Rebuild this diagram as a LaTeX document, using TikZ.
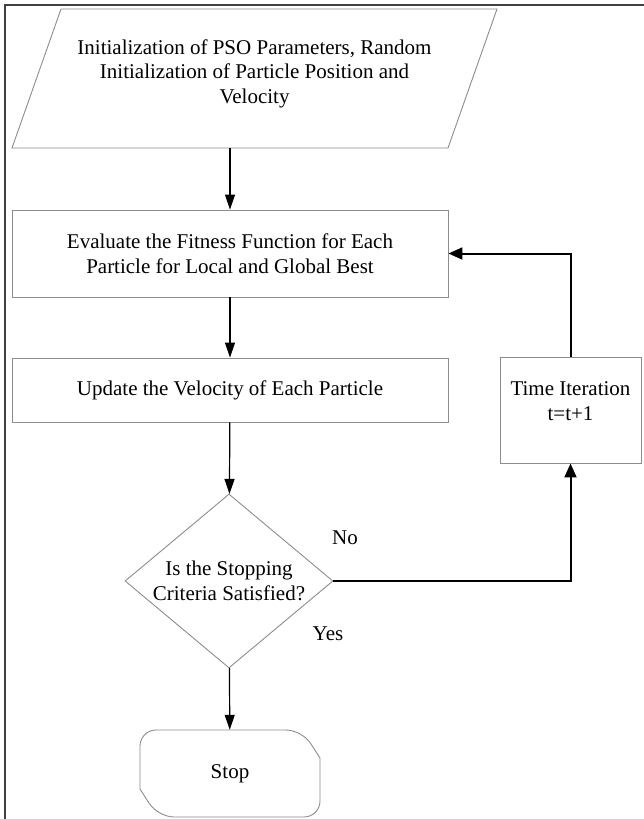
\documentclass[tikz,border=0pt]{standalone}
\usepackage{fontspec}
\setmainfont{Liberation Serif}
\usetikzlibrary{shapes, arrows.meta}

\definecolor{edgegray}{RGB}{140,140,140}
\definecolor{framegray}{RGB}{64,64,64}

\begin{document}
\begin{tikzpicture}[x=1pt, y=-1pt,
	every node/.style={font=\fontsize{21}{24.5}\selectfont, align=center},
	edge/.style={draw=edgegray, line width=0.9pt},
	block/.style={edge, rectangle, minimum width=436pt, minimum height=87pt},
	arr/.style={-{Triangle[width=10pt,length=15pt]}, line width=1.2pt},
	backarr/.style={-{Triangle[width=12pt,length=14pt]}, line width=2pt}]
	\useasboundingbox (0,0) rectangle (644,819);
	\draw[framegray, line width=1.5pt] (644,5) -- (5,5) -- (5,819);

	\draw[edge] (61,9) -- (497,9) -- (448,148) -- (12,148) -- cycle;
	\node[minimum width=400pt, minimum height=139pt, text depth=14pt] (init) at (254.5,78.5) {Initialization of PSO Parameters, Random\\Initialization of Particle Position and\\Velocity};

	\node[block] (evalbox) at (230,253.5) {Evaluate the Fitness Function for Each\\Particle for Local and Global Best};
	\node[block, minimum height=64pt] (velbox) at (230,390) {Update the Velocity of Each Particle};
	\node[edge, diamond, aspect=1.195, inner sep=0pt, minimum width=208pt, minimum height=174pt] (check) at (229,581) {Is the Stopping\\Criteria Satisfied?};
	\node[edge, rectangle, minimum width=141pt, minimum height=106pt, text depth=18pt] (timebox) at (570.5,410) {Time Iteration\\t=t+1};
	\node (nolbl) at (345,538) {No};
	\node (yeslbl) at (328,634) {Yes};

	\node[minimum width=180pt, minimum height=87pt] (stop) at (230,773.5) {Stop};
	\draw[edge] (140,789) [rounded corners=16pt] -- (140,730) -- (302,730) [sharp corners] -- (320,758) [rounded corners=16pt] -- (320,817) -- (158,817) [sharp corners] -- cycle;

	\draw[arr] (evalbox.north |- init.south) -- (evalbox.north);
	\draw[arr] (evalbox) -- (velbox);
	\draw[arr] (velbox) -- (check);
	\draw[arr] (check) -- (stop);
	\draw[backarr] (check.east) -| (timebox.south);
	\draw[backarr] (timebox.north) |- (evalbox.east);
\end{tikzpicture}
\end{document}
